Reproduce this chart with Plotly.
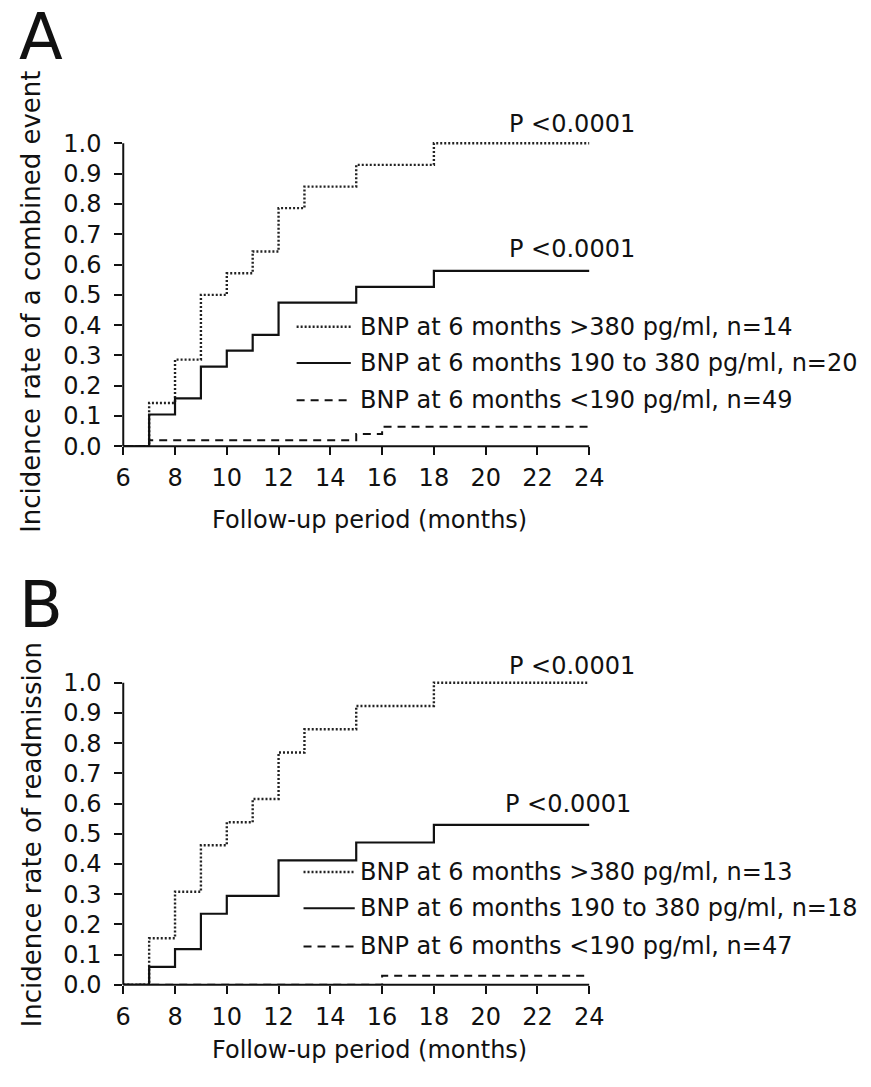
import plotly.graph_objects as go

W, H = 871, 1087

# ---------------- data ----------------
ticks_x = [6, 8, 10, 12, 14, 16, 18, 20, 22, 24]
ticks_y = [0.0, 0.1, 0.2, 0.3, 0.4, 0.5, 0.6, 0.7, 0.8, 0.9, 1.0]

# Panel A: combined event
months_A_high = [6, 7, 8, 9, 10, 11, 12, 13, 15, 18, 24]
rate_A_high = [0, 0.143, 0.286, 0.500, 0.571, 0.643, 0.786, 0.857, 0.929, 1.0, 1.0]
months_A_mid = [6, 7, 8, 9, 10, 11, 12, 15, 18, 24]
rate_A_mid = [0, 0.105, 0.158, 0.263, 0.316, 0.368, 0.474, 0.526, 0.579, 0.579]
months_A_low = [6, 7, 15, 16, 24]
rate_A_low = [0, 0.020, 0.041, 0.065, 0.065]

# Panel B: readmission
months_B_high = [6, 7, 8, 9, 10, 11, 12, 13, 15, 18, 24]
rate_B_high = [0, 0.154, 0.308, 0.462, 0.538, 0.615, 0.769, 0.846, 0.923, 1.0, 1.0]
months_B_mid = [6, 7, 8, 9, 10, 12, 15, 18, 24]
rate_B_mid = [0, 0.059, 0.118, 0.235, 0.294, 0.412, 0.471, 0.529, 0.529]
months_B_low = [6, 16, 24]
rate_B_low = [0, 0.030, 0.030]

legend_A = ["BNP at 6 months >380 pg/ml, n=14",
            "BNP at 6 months 190 to 380 pg/ml, n=20",
            "BNP at 6 months <190 pg/ml, n=49"]
legend_B = ["BNP at 6 months >380 pg/ml, n=13",
            "BNP at 6 months 190 to 380 pg/ml, n=18",
            "BNP at 6 months <190 pg/ml, n=47"]
p_text = "P <0.0001"
ytitle_A = "Incidence rate of a combined event"
ytitle_B = "Incidence rate of readmission"
xtitle = "Follow-up period (months)"

# ---------------- styling ----------------
FONT = "DejaVu Sans"
INK = "#111111"
styles = [dict(dash="2px,2px", width=2.4, color="#222222"),
          dict(dash="solid", width=2.2, color=INK),
          dict(dash="8px,6px", width=2.0, color=INK)]

def px(x):
    return x / W

def py(y):
    return 1 - y / H

# pixel geometry
X0, X24 = 117, 590
ppm = (X24 - X0) / 18.0
xmax = 24.4
x_dom = [px(X0), px(X0 + (xmax - 6) * ppm)]
A_y0, A_y1 = 448, 139
B_y0, B_y1 = 997, 689
ymax = 1.02
A_dom = [py(A_y0), py(A_y0 - (A_y0 - A_y1) * ymax)]
B_dom = [py(B_y0), py(B_y0 - (B_y0 - B_y1) * ymax)]

fig = go.Figure()

series_A = [(months_A_high, rate_A_high), (months_A_mid, rate_A_mid), (months_A_low, rate_A_low)]
series_B = [(months_B_high, rate_B_high), (months_B_mid, rate_B_mid), (months_B_low, rate_B_low)]

for (xs, ys), st in zip(series_A, styles):
    fig.add_trace(go.Scatter(x=xs, y=ys, mode="lines", line_shape="hv",
                             line=st, xaxis="x", yaxis="y", showlegend=False,
                             hoverinfo="skip"))
for (xs, ys), st in zip(series_B, styles):
    fig.add_trace(go.Scatter(x=xs, y=ys, mode="lines", line_shape="hv",
                             line=st, xaxis="x2", yaxis="y2", showlegend=False,
                             hoverinfo="skip"))

axis_common = dict(showgrid=False, zeroline=False, showline=False,
                   ticks="outside", ticklen=8, tickwidth=2, tickcolor=INK,
                   tickfont=dict(family=FONT, size=24, color=INK))

fig.update_layout(
    width=W, height=H,
    margin=dict(l=0, r=0, t=0, b=0),
    paper_bgcolor="white", plot_bgcolor="white",
    xaxis=dict(domain=x_dom, range=[6, xmax], anchor="y",
               tickvals=ticks_x, ticklabelstandoff=2, **axis_common),
    yaxis=dict(domain=A_dom, range=[0, ymax], anchor="x",
               tickvals=ticks_y, tickformat=".1f", ticklabelstandoff=8, **axis_common),
    xaxis2=dict(domain=x_dom, range=[6, xmax], anchor="y2",
                tickvals=ticks_x, ticklabelstandoff=2, **axis_common),
    yaxis2=dict(domain=B_dom, range=[0, ymax], anchor="x2",
                tickvals=ticks_y, tickformat=".1f", ticklabelstandoff=8, **axis_common),
)

shapes = []
annotations = []

# axis lines (paper-referenced so they are not clipped)
for y0, y1 in [(A_y0, A_y1), (B_y0, B_y1)]:
    shapes.append(dict(type="line", xref="paper", yref="paper",
                       x0=px(X0), x1=px(X24), y0=py(y0), y1=py(y0),
                       line=dict(color=INK, width=2)))
    shapes.append(dict(type="line", xref="paper", yref="paper",
                       x0=px(X0), x1=px(X0), y0=py(y0), y1=py(y1),
                       line=dict(color=INK, width=2)))

def legend(rows_y, x_line0, x_line1, x_text, labels):
    for yy, st, lab in zip(rows_y, styles, labels):
        shapes.append(dict(type="line", xref="paper", yref="paper",
                           x0=px(x_line0), x1=px(x_line1), y0=py(yy), y1=py(yy),
                           line=dict(color=st["color"], width=st["width"], dash=st["dash"])))
        annotations.append(dict(xref="paper", yref="paper", x=px(x_text), y=py(yy),
                                text=lab, showarrow=False, xanchor="left", yanchor="middle",
                                font=dict(family=FONT, size=24, color=INK)))

legend([326, 363, 401], 293, 348, 355, legend_A)
legend([882, 919, 958], 300, 352, 355, legend_B)

# P values
for (xr, yy) in [(639, 119), (639, 247), (639, 672), (634, 813)]:
    annotations.append(dict(xref="paper", yref="paper", x=px(xr), y=py(yy),
                            text=p_text, showarrow=False, xanchor="right", yanchor="middle",
                            font=dict(family=FONT, size=24, color=INK)))

# panel letters
for (lab, yy) in [("A", 31), ("B", 610)]:
    annotations.append(dict(xref="paper", yref="paper", x=px(9), y=py(yy),
                            text=lab, showarrow=False, xanchor="left", yanchor="middle",
                            font=dict(family=FONT, size=64, color=INK)))

# axis titles
annotations.append(dict(xref="paper", yref="paper", x=px(24), y=py(301),
                        text=ytitle_A, textangle=-90, showarrow=False,
                        xanchor="center", yanchor="middle",
                        font=dict(family=FONT, size=26, color=INK)))
annotations.append(dict(xref="paper", yref="paper", x=px(24), y=py(844),
                        text=ytitle_B, textangle=-90, showarrow=False,
                        xanchor="center", yanchor="middle",
                        font=dict(family=FONT, size=26, color=INK)))
annotations.append(dict(xref="paper", yref="paper", x=px(367), y=py(523),
                        text=xtitle, showarrow=False, xanchor="center", yanchor="middle",
                        font=dict(family=FONT, size=24, color=INK)))
annotations.append(dict(xref="paper", yref="paper", x=px(367), y=py(1064),
                        text=xtitle, showarrow=False, xanchor="center", yanchor="middle",
                        font=dict(family=FONT, size=24, color=INK)))

fig.update_layout(shapes=shapes, annotations=annotations)
fig.write_html("out.html")
